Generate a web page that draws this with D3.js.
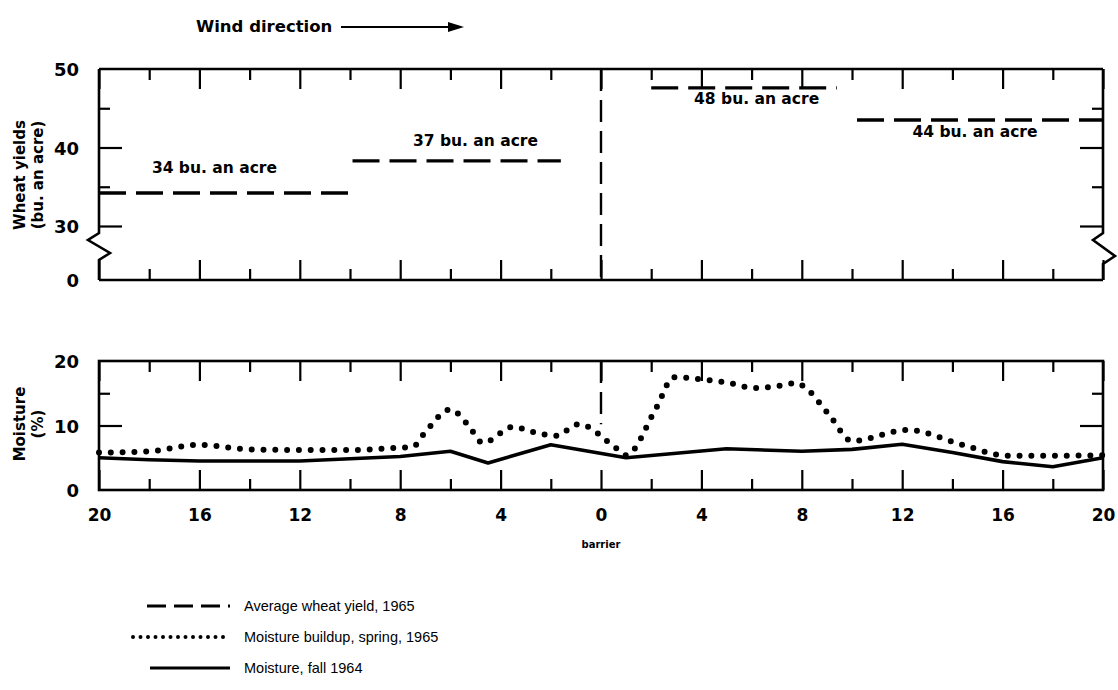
<!DOCTYPE html>
<html>
<head>
<meta charset="utf-8">
<script src="https://cdn.jsdelivr.net/npm/d3@7"></script>
<style>
  body { margin: 0; background: #fff; }
  text { font-family: "DejaVu Sans", "Liberation Sans", sans-serif; fill: #000; }
  .bold { font-weight: bold; }
  .axis .domain { display: none; }
  .axis line { stroke: #000; stroke-width: 2.2; }
</style>
</head>
<body>
<div id="chart"></div>
<script>
/* data */
var xMajor = [-20, -16, -12, -8, -4, 0, 4, 8, 12, 16, 20];
var xMinor = [-18, -14, -10, -6, -2, 2, 6, 10, 14, 18];

// average wheat yield 1965, dashed levels
var yieldFrom = [-20, -9.9, 2, 10.2];
var yieldTo = [-10, -1.6, 9.4, 20];
var yieldLevel = [34.2, 38.3, 47.6, 43.5];
var yieldText = ["34 bu. an acre", "37 bu. an acre", "48 bu. an acre", "44 bu. an acre"];
var yieldTextX = [-15.4, -5, 6.2, 14.9];
var yieldTextY = [36.8, 40.2, 45.5, 41.3];

// moisture buildup, spring 1965 (dotted)
var springX = [-20, -18, -16, -14, -12, -10, -8.3, -7.5, -7, -6, -5.3, -4.7, -3.5, -2.7, -1.8, -0.9, 0.6, 1.0, 2.2, 2.9, 3.9, 5.1, 6.1, 7.0, 7.8, 8.1, 9.1, 10.0, 12.2, 14.4, 16.2, 18, 20];
var springY = [5.8, 6.0, 7.0, 6.3, 6.2, 6.2, 6.5, 6.7, 9.0, 12.5, 10.1, 7.3, 9.8, 9.0, 8.4, 10.2, 6.5, 5.4, 12.7, 17.5, 17.2, 16.6, 15.8, 16.1, 16.6, 16.0, 11.6, 7.6, 9.3, 7.0, 5.3, 5.3, 5.4];

// moisture, fall 1964 (solid)
var fallX = [-20, -18, -16, -12, -8, -6, -4.5, -2, 1, 3, 5, 8, 10, 12, 14, 16, 18, 20];
var fallY = [5.0, 4.7, 4.5, 4.5, 5.2, 6.0, 4.2, 7.0, 5.0, 5.7, 6.4, 6.0, 6.3, 7.1, 5.8, 4.4, 3.6, 5.0];

var legendText = ["Average wheat yield, 1965", "Moisture buildup, spring, 1965", "Moisture, fall 1964"];

/* layout */
var width = 1118, height = 690;

var svg = d3.select("#chart")
    .append("svg")
    .attr("width", width)
    .attr("height", height);

var x = d3.scaleLinear().domain([-20, 20]).range([99, 1103]);
// broken axis: 0..30 squeezed
var yTop = d3.scaleLinear().domain([0, 30, 50]).range([280, 226, 69]);
var yBot = d3.scaleLinear().domain([0, 20]).range([490, 361]);

var dashed = "27 10";

/* wind direction */
svg.append("text")
    .attr("class", "bold")
    .attr("x", 196).attr("y", 32)
    .style("font-size", "16.5px")
    .text("Wind direction");
svg.append("line")
    .attr("x1", 341).attr("x2", 452)
    .attr("y1", 27).attr("y2", 27)
    .attr("stroke", "#000").attr("stroke-width", 2.2);
svg.append("path")
    .attr("d", "M464,27 L448,22 L448,32 Z")
    .attr("fill", "#000");

/* helper for ticks inside a panel */
function panelTicks(yScale, yMin, yMax, leftMajor, leftMinor) {
    var g = svg.append("g");
    var bottom = yScale(yMin), top = yScale(yMax);

    [[xMajor, 20], [xMinor, 11]].forEach(function (t) {
        g.append("g").attr("class", "axis")
            .attr("transform", "translate(0," + bottom + ")")
            .call(d3.axisBottom(x).tickValues(t[0]).tickSize(-t[1]).tickFormat(""));
        g.append("g").attr("class", "axis")
            .attr("transform", "translate(0," + top + ")")
            .call(d3.axisTop(x).tickValues(t[0]).tickSize(-t[1]).tickFormat(""));
    });
    [[leftMajor, 23], [leftMinor, 11]].forEach(function (t) {
        g.append("g").attr("class", "axis")
            .attr("transform", "translate(" + x(-20) + ",0)")
            .call(d3.axisLeft(yScale).tickValues(t[0]).tickSize(-t[1]).tickFormat(""));
        g.append("g").attr("class", "axis")
            .attr("transform", "translate(" + x(20) + ",0)")
            .call(d3.axisRight(yScale).tickValues(t[0]).tickSize(-t[1]).tickFormat(""));
    });
    return g;
}

/* ---------- top panel ---------- */
panelTicks(yTop, 0, 50, [40, 30], [45, 35]);

// frame with break marks
var L = x(-20), R = x(20), T = yTop(50), B = yTop(0);
var frame = "M" + L + "," + B + " L" + R + "," + B +
    " M" + L + "," + T + " L" + R + "," + T +
    " M" + L + "," + T + " L" + L + "," + (yTop(30) + 7) +
    " L" + (L - 11) + "," + (yTop(30) + 14) +
    " L" + (L + 11) + "," + (yTop(30) + 27) +
    " L" + L + "," + (yTop(30) + 34) + " L" + L + "," + B +
    " M" + R + "," + T + " L" + R + "," + (yTop(30) + 7) +
    " L" + (R - 10) + "," + (yTop(30) + 14) +
    " L" + (R + 12) + "," + (yTop(30) + 30) +
    " L" + R + "," + (yTop(30) + 38) + " L" + R + "," + B;
svg.append("path").attr("d", frame)
    .attr("fill", "none").attr("stroke", "#000").attr("stroke-width", 2.6);

// barrier line
svg.append("line")
    .attr("x1", x(0)).attr("x2", x(0))
    .attr("y1", T).attr("y2", B - 2)
    .attr("stroke", "#000").attr("stroke-width", 2.4)
    .attr("stroke-dasharray", "22 9");

// yield segments
yieldLevel.forEach(function (v, i) {
    svg.append("line")
        .attr("x1", x(yieldFrom[i])).attr("x2", x(yieldTo[i]))
        .attr("y1", yTop(v)).attr("y2", yTop(v))
        .attr("stroke", "#000").attr("stroke-width", 3.4)
        .attr("stroke-dasharray", dashed);
    svg.append("text")
        .attr("class", "bold")
        .attr("x", x(yieldTextX[i])).attr("y", yTop(yieldTextY[i]))
        .attr("text-anchor", "middle")
        .style("font-size", "15.5px")
        .text(yieldText[i]);
});

// y tick labels
svg.selectAll(".ytop").data([50, 40, 30, 0]).enter().append("text")
    .attr("class", "bold")
    .attr("x", 79).attr("y", function (d) { return yTop(d) + 7; })
    .attr("text-anchor", "end")
    .style("font-size", "18px")
    .text(function (d) { return d; });

svg.append("text")
    .attr("class", "bold")
    .attr("transform", "translate(25," + 175 + ") rotate(-90)")
    .attr("text-anchor", "middle")
    .style("font-size", "15px")
    .text("Wheat yields");
svg.append("text")
    .attr("class", "bold")
    .attr("transform", "translate(43," + 175 + ") rotate(-90)")
    .attr("text-anchor", "middle")
    .style("font-size", "15px")
    .text("(bu. an acre)");

/* ---------- bottom panel ---------- */
panelTicks(yBot, 0, 20, [10], [15]);

var T2 = yBot(20), B2 = yBot(0);
svg.append("rect")
    .attr("x", L).attr("y", T2)
    .attr("width", R - L).attr("height", B2 - T2)
    .attr("fill", "none").attr("stroke", "#000").attr("stroke-width", 2.6);

svg.append("line")
    .attr("x1", x(0)).attr("x2", x(0))
    .attr("y1", T2).attr("y2", yBot(10.2))
    .attr("stroke", "#000").attr("stroke-width", 2.4)
    .attr("stroke-dasharray", "22 9");

var fallLine = d3.line()
    .x(function (d, i) { return x(fallX[i]); })
    .y(function (d) { return yBot(d); });
svg.append("path")
    .datum(fallY)
    .attr("fill", "none")
    .attr("stroke", "#000")
    .attr("stroke-width", 3.6)
    .attr("stroke-linejoin", "round")
    .attr("d", fallLine);

var springLine = d3.line()
    .x(function (d, i) { return x(springX[i]); })
    .y(function (d) { return yBot(d); })
    .curve(d3.curveMonotoneX);
svg.append("path")
    .datum(springY)
    .attr("fill", "none")
    .attr("stroke", "#000")
    .attr("stroke-width", 6)
    .attr("stroke-linecap", "round")
    .attr("stroke-dasharray", "0 11.8")
    .attr("d", springLine);

svg.selectAll(".ybot").data([20, 10, 0]).enter().append("text")
    .attr("class", "bold")
    .attr("x", 79).attr("y", function (d) { return yBot(d) + 7; })
    .attr("text-anchor", "end")
    .style("font-size", "18px")
    .text(function (d) { return d; });

svg.append("text")
    .attr("class", "bold")
    .attr("transform", "translate(25," + 424 + ") rotate(-90)")
    .attr("text-anchor", "middle")
    .style("font-size", "15px")
    .text("Moisture");
svg.append("text")
    .attr("class", "bold")
    .attr("transform", "translate(43," + 424 + ") rotate(-90)")
    .attr("text-anchor", "middle")
    .style("font-size", "15px")
    .text("(%)");

// x tick labels
var xLab = svg.append("g").attr("class", "axis xlab")
    .attr("transform", "translate(0," + B2 + ")")
    .call(d3.axisBottom(x).tickValues(xMajor).tickSize(0).tickPadding(19)
        .tickFormat(function (d) { return Math.abs(d); }));
xLab.selectAll("text")
    .attr("class", "bold")
    .style("font-size", "17px")
    .style("font-family", "'DejaVu Sans', sans-serif");

svg.append("text")
    .attr("x", x(0)).attr("y", 548)
    .attr("text-anchor", "middle")
    .style("font-size", "10px")
    .style("font-weight", "bold")
    .text("barrier");

/* ---------- legend ---------- */
var legY = [606, 637, 668];
var leg = svg.append("g");
leg.append("line")
    .attr("x1", 147).attr("x2", 230).attr("y1", legY[0]).attr("y2", legY[0])
    .attr("stroke", "#000").attr("stroke-width", 3.2).attr("stroke-dasharray", "19 8");
leg.append("line")
    .attr("x1", 133).attr("x2", 230).attr("y1", legY[1]).attr("y2", legY[1])
    .attr("stroke", "#000").attr("stroke-width", 4).attr("stroke-linecap", "round")
    .attr("stroke-dasharray", "0 7.5");
leg.append("line")
    .attr("x1", 150).attr("x2", 230).attr("y1", legY[2]).attr("y2", legY[2])
    .attr("stroke", "#000").attr("stroke-width", 3.2);
legendText.forEach(function (t, i) {
    leg.append("text")
        .attr("x", 244).attr("y", legY[i] + 5)
        .style("font-size", "14.5px")
        .style("font-family", "'Liberation Sans', sans-serif")
        .text(t);
});
</script>
</body>
</html>
